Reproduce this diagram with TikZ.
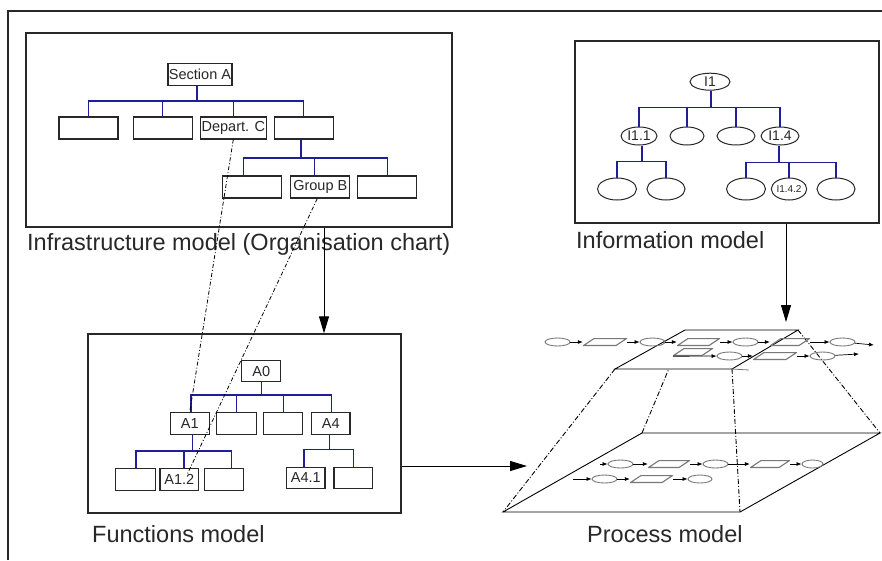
\documentclass[tikz,border=0pt]{standalone}
\usepackage{fontspec}
\setmainfont{Liberation Sans}
\usetikzlibrary{arrows.meta,shapes.geometric,calc}
\definecolor{tree}{RGB}{30,30,150}
\definecolor{ink}{RGB}{40,40,40}
\definecolor{chain}{RGB}{120,120,120}
\begin{document}
\begin{tikzpicture}[x=1pt,y=-1pt,
  panel/.style={draw=ink, line width=1.3pt, inner sep=0},
  obox/.style={draw=ink, line width=1.1pt, inner sep=0, minimum height=22pt, text=ink, font=\fontsize{14.5}{15}\selectfont},
  oell/.style={ellipse, draw=ink, line width=1pt, inner sep=0, text=ink, font=\fontsize{14}{15}\selectfont},
  tline/.style={draw=tree, line width=1.2pt},
  biglabel/.style={font=\fontsize{23.5}{26}\selectfont, text=ink, inner sep=0, anchor=base west},
  linkdash/.style={draw=black, line width=0.8pt, dash pattern=on 4pt off 2pt on 1pt off 2pt},
  bigarrow/.style={draw=black, line width=1pt, -{Triangle[length=17pt,width=10pt]}},
  edge3d/.style={draw=black, line width=0.9pt},
  hidden/.style={edge3d, dash pattern=on 5pt off 2pt on 1pt off 2pt},
  pe/.style={ellipse, draw=chain, line width=0.9pt, minimum width=25pt, minimum height=8pt, inner sep=0},
  pp/.style={rectangle, minimum width=42pt, minimum height=8pt, inner sep=0,
    path picture={\draw[chain, line width=1.1pt]
      ([xshift=0.5pt,yshift=0.5pt]path picture bounding box.south west) --
      ([xshift=-11pt,yshift=0.5pt]path picture bounding box.south east) --
      ([xshift=-0.5pt,yshift=-0.5pt]path picture bounding box.north east) --
      ([xshift=11pt,yshift=-0.5pt]path picture bounding box.north west) -- cycle;}},
  ca/.style={draw=black, line width=0.7pt, -{Latex[length=5pt,width=4pt]}}
]
\useasboundingbox (0,0) rectangle (882,560);
\fill[white] (0,0) rectangle (882,560);
% outer frame
\draw[draw=ink, line width=1.2pt] (8,560) -- (8,11) -- (882,11);

% ---------- panels ----------
\node[panel, minimum width=426pt, minimum height=194pt] (infra) at (239,130) {};
\node[panel, minimum width=304pt, minimum height=182pt] (info) at (727,132) {};
\node[panel, minimum width=313pt, minimum height=179pt] (func) at (244.5,423.5) {};

\node[biglabel] (linfra) at (27,250) {Infrastructure model (Organisation chart)};
\node[biglabel] (linfo) at (576,248) {Information model};
\node[biglabel] (lfunc) at (92,542) {Functions model};
\node[biglabel] (lproc) at (587,542) {Process model};

% ---------- infrastructure tree ----------
\node[obox, minimum width=64pt] (secA) at (200,74.5) {Section A};
\node[obox, minimum width=59pt] (d1) at (88.5,128) {};
\node[obox, minimum width=59pt] (d2) at (162.8,128) {};
\node[obox, minimum width=66pt] (depC) at (233.3,128) {Depart. C};
\node[obox, minimum width=59pt] (d4) at (303.8,128) {};
\coordinate (barA) at (197,101);
\draw[tline] (secA.south -| barA) -- (barA);
\draw[tline] (d1.north) |- (barA);
\draw[tline] (d4.north) |- (barA);
\draw[tline] (d2.north) -- (d2.north |- barA);
\draw[tline] (depC.north) -- (depC.north |- barA);

\node[obox, minimum width=59pt] (g1) at (252.2,187) {};
\node[obox, minimum width=59pt] (grpB) at (320.3,187) {Group B};
\node[obox, minimum width=59pt] (g3) at (387.2,187) {};
\coordinate (barB) at (301,158);
\draw[tline] (d4.south -| barB) -- (barB);
\draw[tline] ([xshift=-9pt]g1.north) |- (barB);
\draw[tline] (g3.north) |- (barB);
\draw[tline] ([xshift=-5.6pt]grpB.north) -- ([xshift=-5.6pt]grpB.north |- barB);

% ---------- functions tree ----------
\node[obox, minimum width=39pt, minimum height=21pt] (a0) at (261.2,371.2) {A0};
\node[obox, minimum width=39.3pt] (a1) at (189.7,423.8) {A1};
\node[obox, minimum width=40pt] (f2) at (236.7,423.8) {};
\node[obox, minimum width=39pt] (f3) at (283.2,423.8) {};
\node[obox, minimum width=38.3pt] (a4) at (330.8,423.8) {A4};
\coordinate (barF) at (261,395);
\draw[tline] (a0.south) -- (a0.south |- barF);
\draw[tline] ([xshift=1.3pt]a1.north) |- (barF);
\draw[tline] ([xshift=1pt]a4.north) |- (barF);
\draw[tline] (f2.north) -- (f2.north |- barF);
\draw[tline] (f3.north) -- (f3.north |- barF);

\node[obox, minimum width=40.3pt, minimum height=21.7pt] (h1) at (135.2,479.2) {};
\node[obox, minimum width=38.7pt, minimum height=21.7pt] (a12) at (179.3,479.2) {A1.2};
\node[obox, minimum width=39pt, minimum height=21.7pt] (h3) at (223.8,479.2) {};
\coordinate (barG) at (192.7,451);
\draw[tline] (a1.south -| barG) -- (barG);
\draw[tline] ([xshift=0.8pt]h1.north) |- (barG);
\draw[tline] ([xshift=7.9pt]h3.north) |- (barG);
\draw[tline] ([xshift=4.7pt]a12.north) -- ([xshift=4.7pt]a12.north |- barG);

\node[obox, minimum width=38.3pt, minimum height=21pt] (a41) at (305.8,477.8) {A4.1};
\node[obox, minimum width=38.7pt, minimum height=21pt] (k2) at (353.3,477.8) {};
\coordinate (barH) at (329.3,449.3);
\draw[tline] (a4.south -| barH) -- (barH);
\draw[tline] ([xshift=-1.8pt]a41.north) |- (barH);
\draw[tline] (k2.north) |- (barH);

% ---------- information tree ----------
\node[oell, minimum width=40pt, minimum height=17pt] (i1) at (710,81.7) {I1};
\node[oell, minimum width=36pt, minimum height=18pt] (i11) at (639,136) {I1.1};
\node[oell, minimum width=34pt, minimum height=18pt] (i12) at (687,136) {};
\node[oell, minimum width=38pt, minimum height=18pt] (i13) at (736,136) {};
\node[oell, minimum width=38pt, minimum height=18pt] (i14) at (780,136) {I1.4};
\coordinate (barI) at (711,107.3);
\draw[tline] (i1.south -| barI) -- (barI);
\draw[tline] (i11.north) |- (barI);
\draw[tline] (i14.north) |- (barI);
\draw[tline] (i12.north) -- (i12.north |- barI);
\draw[tline] (i13.north) -- (i13.north |- barI);

\node[oell, minimum width=39pt, minimum height=22pt] (j1) at (617,189) {};
\node[oell, minimum width=38pt, minimum height=22pt] (j2) at (666,189) {};
\coordinate (barJ) at (642,161.7);
\draw[tline] (i11.south -| barJ) -- (barJ);
\draw[tline] (j1.north) |- (barJ);
\draw[tline] (j2.north) |- (barJ);

\node[oell, minimum width=39pt, minimum height=22pt] (m1) at (746,189) {};
\node[oell, minimum width=34pt, minimum height=22pt, font=\fontsize{10}{10}\selectfont] (m2) at (789,189) {I1.4.2};
\node[oell, minimum width=38pt, minimum height=22pt] (m3) at (836,189) {};
\coordinate (barM) at (779,162.3);
\draw[tline] (i14.south -| barM) -- (barM);
\draw[tline] (m1.north) |- (barM);
\draw[tline] (m3.north) |- (barM);
\draw[tline] (m2.north) -- (m2.north |- barM);

% ---------- cross links ----------
\draw[linkdash] (depC.south) -- (a1.north);
\draw[linkdash] ([xshift=-3pt]grpB.south) -- ([xshift=8pt,yshift=5pt]a12.center);

% ---------- arrows ----------
\coordinate (ax) at (324,0);
\draw[bigarrow] (infra.south -| ax) -- (func.north -| ax);
\coordinate (pmtop) at (786,322);
\draw[bigarrow] (info.south -| pmtop) -- (pmtop);
\coordinate (pmleft) at (527,466);
\draw[bigarrow] (func.east |- pmleft) -- (pmleft);

% ---------- process model ----------
\coordinate (tA) at (615,369); \coordinate (tB) at (732,369);
\coordinate (tC) at (798,330); \coordinate (tD) at (685,330);
\coordinate (bA) at (503,512); \coordinate (bB) at (740,512);
\coordinate (bC) at (880,433); \coordinate (bD) at (642,433);
\draw[edge3d] (bA) -- (bB) -- (bC) -- (bD) -- cycle;
\draw[hidden] (tA) -- (bA);
\draw[hidden] (tB) -- (bB);
\draw[hidden] (tC) -- (bC);
\draw[hidden] (bD) -- ($(bD)!0.62!(tD)$);
\draw[edge3d] (tA) -- (tB) -- (tC) -- (tD) -- cycle;
\draw[draw=chain, line width=0.8pt] (tB) -- ++(17,1);

% top chain, row 1
\node[pe] (e1) at (557.5,342) {};
\node[pp, minimum width=44pt] (p1) at (605,342) {};
\node[pe] (e2) at (652.5,342) {};
\node[pp, minimum width=43pt] (p2) at (698.5,342) {};
\node[pe] (e3) at (745.5,342) {};
\node[pp, minimum width=40pt] (p3) at (790,342) {};
\node[pe] (e4) at (842.5,342) {};
\coordinate (t1end) at (874,345);
\draw[ca] (e1) -- (p1);
\draw[ca] (p1) -- (e2);
\draw[ca] (e2) -- (p2);
\draw[ca] (p2) -- (e3);
\draw[ca] (e3) -- (p3);
\draw[ca] (p3) -- (e4);
\draw[ca] (e4) -- (t1end);
% top chain, row 2
\node[pp, minimum width=40pt] (p0) at (693,352) {};
\node[pe] (e5) at (729.5,356) {};
\node[pp, minimum width=44pt] (p4) at (775,356) {};
\node[pe] (e6) at (822.5,356) {};
\coordinate (t2end) at (859,354);
\draw[ca] (p0.south west) -- (e5);
\draw[ca] (e5) -- (p4);
\draw[ca] (p4) -- (e6);
\draw[ca] (e6) -- (t2end);

% bottom chain, row 1
\coordinate (b1start) at (600,464);
\node[pe] (f1) at (620.5,464) {};
\node[pp, minimum width=42pt] (q1) at (669,464) {};
\node[pe] (f2p) at (715.5,464) {};
\node[pp, minimum width=40pt] (q2) at (770,464) {};
\node[pe, minimum width=21pt] (f3p) at (812.5,464) {};
\draw[ca] (b1start) -- (f1);
\draw[ca] (f1) -- (q1);
\draw[ca] (q1) -- (f2p);
\draw[ca] (f2p) -- (q2);
\draw[ca] (q2) -- (f3p);
% bottom chain, row 2
\coordinate (b2start) at (573,479);
\node[pe] (f4) at (604.5,479) {};
\node[pp, minimum width=43pt] (q3) at (651.5,479) {};
\node[pe, minimum width=24pt] (f5) at (700,479) {};
\draw[ca] (b2start) -- (f4);
\draw[ca] (f4) -- (q3);
\draw[ca] (q3) -- (f5);
\end{tikzpicture}
\end{document}
